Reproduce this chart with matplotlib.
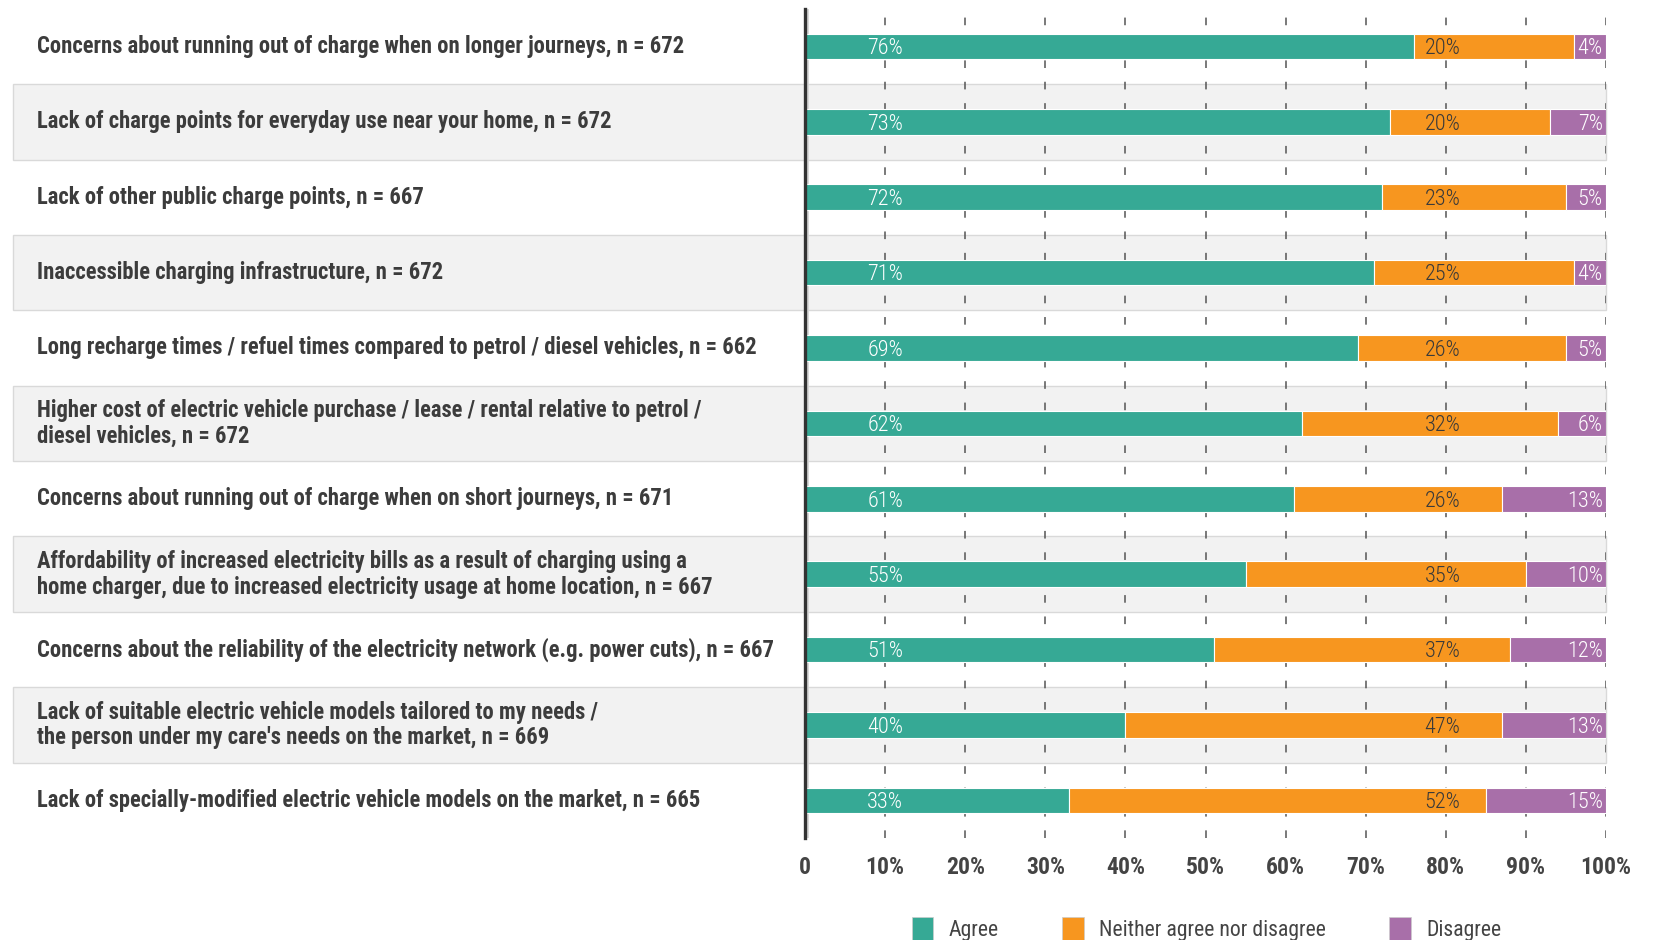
import matplotlib.pyplot as plt
from matplotlib import font_manager as fm
from matplotlib.patches import Patch

names = {f.name for f in fm.fontManager.ttflist}
font = 'Lato'
for cand in ['Roboto Condensed', 'Open Sans Condensed', 'Liberation Sans Narrow']:
    if cand in names:
        font = cand
        break

# data
labels = [
    "Concerns about running out of charge when on longer journeys, n = 672",
    "Lack of charge points for everyday use near your home, n = 672",
    "Lack of other public charge points, n = 667",
    "Inaccessible charging infrastructure, n = 672",
    "Long recharge times / refuel times compared to petrol / diesel vehicles, n = 662",
    "Higher cost of electric vehicle purchase / lease / rental relative to petrol /\ndiesel vehicles, n = 672",
    "Concerns about running out of charge when on short journeys, n = 671",
    "Affordability of increased electricity bills as a result of charging using a\nhome charger, due to increased electricity usage at home location, n = 667",
    "Concerns about the reliability of the electricity network (e.g. power cuts), n = 667",
    "Lack of suitable electric vehicle models tailored to my needs /\nthe person under my care's needs on the market, n = 669",
    "Lack of specially-modified electric vehicle models on the market, n = 665",
]
agree = [76, 73, 72, 71, 69, 62, 61, 55, 51, 40, 33]
neither = [20, 20, 23, 25, 26, 32, 26, 35, 37, 47, 52]
disagree = [4, 7, 5, 4, 5, 6, 13, 10, 12, 13, 15]
series_names = ["Agree", "Neither agree nor disagree", "Disagree"]
colors = ["#36a995", "#f7961f", "#a86fa9"]
xticks = [0, 10, 20, 30, 40, 50, 60, 70, 80, 90, 100]
xticklabels = ["0"] + [f"{t}%" for t in xticks[1:]]

fig = plt.figure(figsize=(16.55, 9.4), dpi=100)
ax = fig.add_axes([0.4864, 0.1085, 0.4840, 0.8822])
y = list(range(len(labels)))

# alternating shaded bands across labels and plot
for i in y:
    if i % 2 == 1:
        ax.axhspan(i - 0.5, i + 0.5, xmin=-0.989, xmax=1.0, facecolor="#f2f2f2",
                   edgecolor="#d9d9d9", linewidth=1, clip_on=False, zorder=0)

# dashed gridlines
for t in xticks[1:]:
    ax.axvline(t, color="#555555", linewidth=1.1, linestyle=(0, (5, 9)), zorder=1)

# soft shadow next to the axis line
ax.axvline(0.3, color="#d5d5d5", linewidth=2, zorder=1.5)

left = [0] * len(y)
for vals, c in zip([agree, neither, disagree], colors):
    ax.barh(y, vals, left=left, height=0.34, color=c, edgecolor="white",
            linewidth=0.8, zorder=2)
    left = [l + v for l, v in zip(left, vals)]

for i in y:
    ax.text(10, i + 0.03, f"{agree[i]}%", ha="center", va="center", color="white",
            fontsize=16, family=font, fontweight="light", zorder=3)
    ax.text(79.6, i + 0.03, f"{neither[i]}%", ha="center", va="center", color="#3a3a3a",
            fontsize=16, family=font, fontweight="light", zorder=3)
    ax.text(99.6, i + 0.03, f"{disagree[i]}%", ha="right", va="center", color="white",
            fontsize=16, family=font, fontweight="light", zorder=3)
    ax.text(-0.959, i, labels[i], transform=ax.get_yaxis_transform(),
            ha="left", va="center", fontsize=16.3, fontweight="bold",
            color="#3c3c3c", family=font, linespacing=1.15)

ax.set_xlim(0, 100)
ax.set_ylim(10.5, -0.5)
ax.set_yticks([])
ax.set_xticks(xticks)
ax.set_xticklabels(xticklabels, fontsize=17, fontweight="bold", color="#444444",
                   family=font)
ax.tick_params(axis="x", length=0, pad=13)
for s in ["top", "right", "bottom"]:
    ax.spines[s].set_visible(False)
ax.spines["left"].set_color("#333333")
ax.spines["left"].set_linewidth(2.4)
ax.spines["left"].set_zorder(4)

handles = [Patch(facecolor=c, edgecolor="#cccccc", linewidth=0.5) for c in colors]
fig.legend(handles, series_names, loc="center", bbox_to_anchor=(0.729, 0.012),
           ncol=3, frameon=False, handlelength=1.0, handleheight=1.25,
           columnspacing=2.9, handletextpad=0.7,
           prop={"family": font, "size": 15.7}, labelcolor="#444444")

fig.savefig("out.png", dpi=100)
